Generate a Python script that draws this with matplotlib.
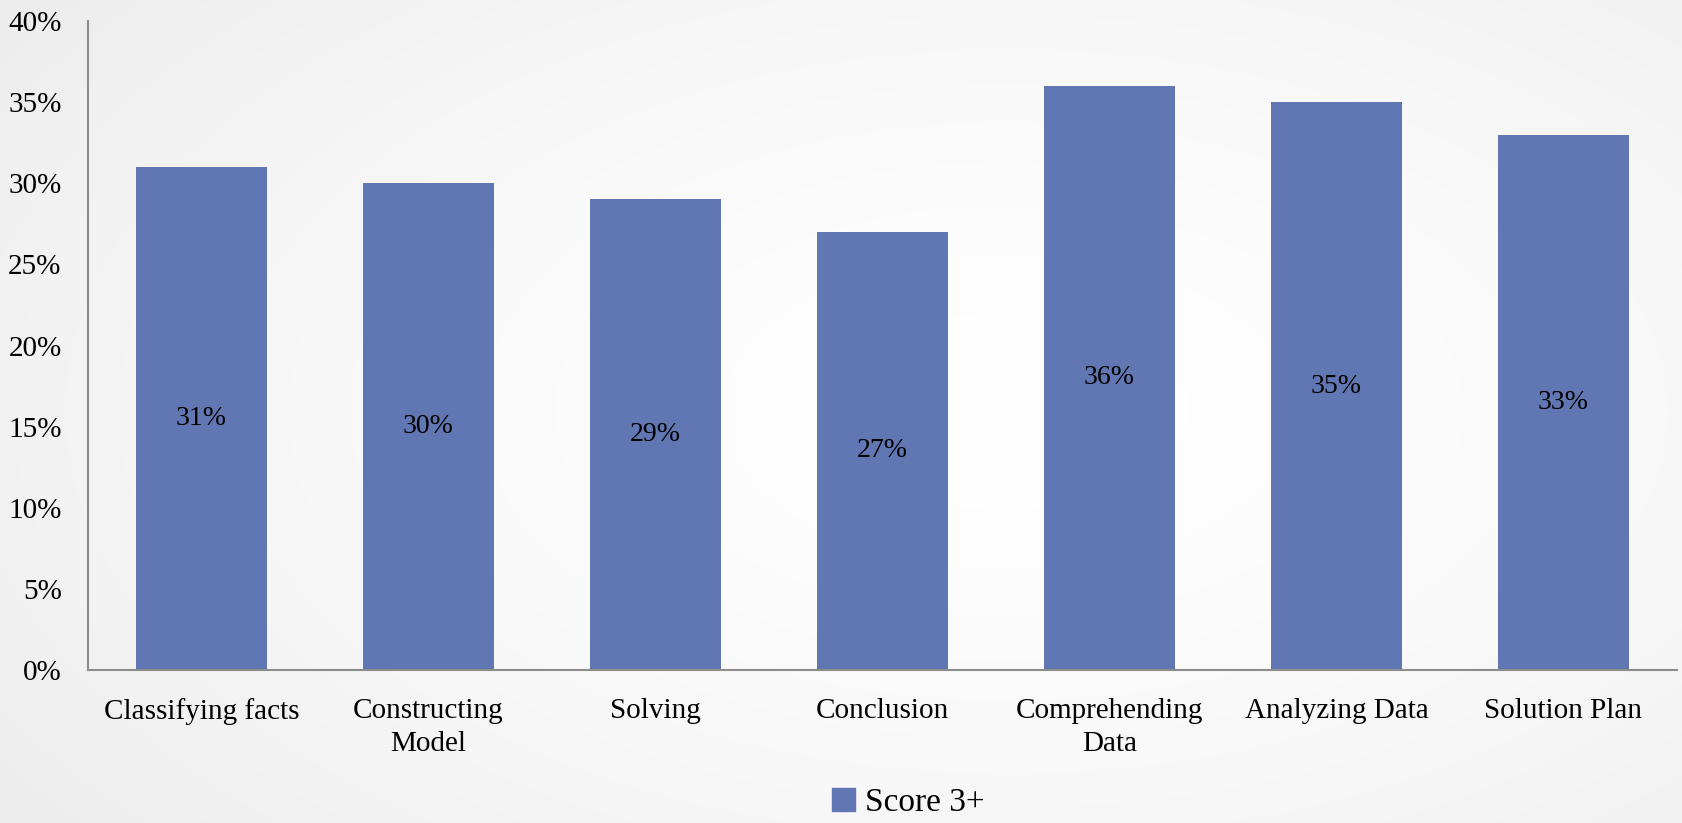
import numpy as np
import matplotlib.pyplot as plt
from matplotlib.patches import Patch

categories = ["Classifying facts", "Constructing\nModel", "Solving", "Conclusion",
              "Comprehending\nData", "Analyzing Data", "Solution Plan"]
scores = [31, 30, 29, 27, 36, 35, 33]
yticks = [0, 5, 10, 15, 20, 25, 30, 35, 40]
series_name = "Score 3+"

bar_color = "#6077b4"
plt.rcParams['font.family'] = ['Liberation Serif', 'DejaVu Serif']

fig = plt.figure(figsize=(16.82, 8.23), dpi=100)

# soft radial background, white in the middle, grey towards the edges
bg = fig.add_axes([0, 0, 1, 1], zorder=-1)
yy, xx = np.mgrid[0:1:400j, 0:1:800j]
r = np.sqrt(((xx - 0.6) / 0.8) ** 2 + ((yy - 0.5) / 0.9) ** 2)
shade = 1.0 - 0.08 * np.clip(r, 0, 1) ** 1.5
bg.imshow(np.dstack([shade] * 3), aspect='auto', extent=[0, 1, 0, 1])
bg.axis('off')

ax = fig.add_axes([88 / 1682, 1 - 670 / 823, (1677 - 88) / 1682, (670 - 21) / 823])
ax.patch.set_alpha(0)

x = np.arange(len(categories))
ax.bar(x, scores, width=0.573, color=bar_color, zorder=2)
for xi, v in zip(x, scores):
    ax.text(xi, v / 2, f"{v}%", ha='center', va='center', fontsize=20, color='black')

ax.set_xlim(-0.5, len(categories) - 0.5)
ax.set_ylim(0, 40)
ax.set_yticks(yticks)
ax.set_yticklabels([f"{t}%" for t in yticks], fontsize=21)
ax.set_xticks(x)
ax.set_xticklabels(categories, fontsize=21, linespacing=1.35, va='top')
ax.tick_params(axis='both', length=0)
ax.tick_params(axis='y', pad=19)
ax.tick_params(axis='x', pad=20)

for side in ['top', 'right']:
    ax.spines[side].set_visible(False)
for side in ['left', 'bottom']:
    ax.spines[side].set_color('#8c8c8c')
    ax.spines[side].set_linewidth(1.5)

fig.legend(handles=[Patch(color=bar_color, label=series_name)],
           loc='center', bbox_to_anchor=(908 / 1682, 1 - 803 / 823),
           frameon=False, fontsize=24, handlelength=0.7, handleheight=0.7,
           handletextpad=0.3, borderpad=0.2)

fig.savefig("out.png", dpi=100)
